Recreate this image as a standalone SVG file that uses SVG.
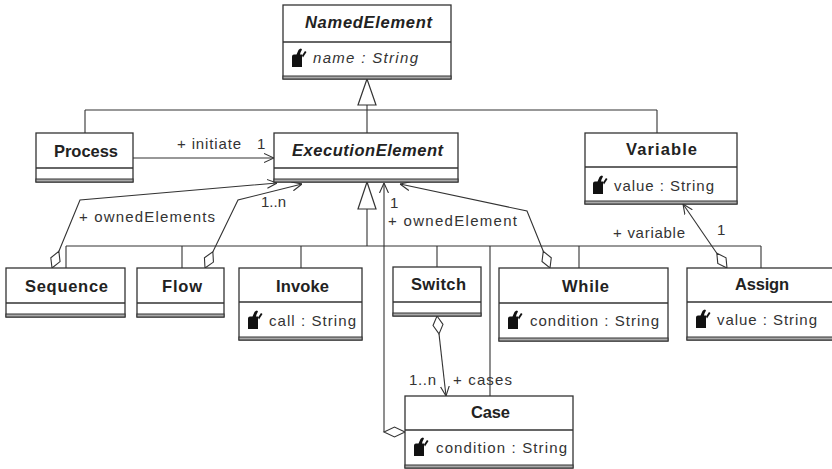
<svg xmlns="http://www.w3.org/2000/svg" width="832" height="469" viewBox="0 0 832 469">
<style>
.box{fill:#fff;stroke:#333;stroke-width:1.3}
.sep{stroke:#333;stroke-width:1.3}
.band{fill:#aaa;stroke:#333;stroke-width:1}
.t{font-family:"Liberation Sans",Arial,sans-serif;font-size:16.5px;font-weight:bold;fill:#222}
.ti{font-family:"Liberation Sans",Arial,sans-serif;font-size:16.5px;font-weight:bold;font-style:italic;fill:#222}
.a{font-family:"Liberation Sans",Arial,sans-serif;font-size:15px;fill:#333}
.ai{font-family:"Liberation Sans",Arial,sans-serif;font-size:15px;font-style:italic;fill:#333}
.l{font-family:"Liberation Sans",Arial,sans-serif;font-size:15px;fill:#333}
.c{fill:none;stroke:#333;stroke-width:1.1}
.dia{fill:#fff;stroke:#333;stroke-width:1.1}
.tri{fill:#fff;stroke:#333;stroke-width:1.2}
</style>
<defs>
<marker id="arr" viewBox="0 0 10 10" refX="10" refY="5" markerWidth="10" markerHeight="10" markerUnits="userSpaceOnUse" orient="auto">
<path d="M0,0.5 L10,5 L0,9.5" fill="none" stroke="#333" stroke-width="1.1"/>
</marker>
<g id="icon">
<path d="M0,19 L0,8.5 Q0,6.5 2,6.5 L4.5,6.5 L6.5,2 Q7.5,0.5 9,0.5 L10,1.5 L8.5,4.5 L8,6.5 L10,6.5 L10,19 Z" fill="#111"/>
<path d="M10,7.5 L13,3 L14.5,4 L11,9.5 Z" fill="#111"/>
</g>
</defs>

<g id="connectors">
<polygon class="tri" points="367,79 358,105 376,105"/>
<path class="c" d="M367,105 V110 M85,110 H657 M85,110 V133 M367,110 V133 M657,110 V133"/>
<polygon class="tri" points="367,182 358,209 376,209"/>
<path class="c" d="M367,209 V246 M66,246 H761 M66,246 V268 M182,246 V268 M301,246 V268 M437,246 V267 M490,246 V396 M579,246 V268 M761,246 V268"/>
<path class="c" d="M133,158 H274" marker-end="url(#arr)"/>
<polygon class="dia" points="52,268 60.05,261.58 58.86,251.35 50.81,257.78"/>
<polyline class="c" points="58.9,251.3 80,200 277,183" marker-end="url(#arr)"/>
<polygon class="dia" points="205,268 213.43,262.08 212.86,251.8 204.43,257.71"/>
<polyline class="c" points="212.9,251.8 238,200 302,184" marker-end="url(#arr)"/>
<polygon class="dia" points="550,268 551.27,257.79 543.27,251.31 542,261.53"/>
<polyline class="c" points="543.3,251.3 527,211 400,184" marker-end="url(#arr)"/>
<polygon class="dia" points="437,316 442.98,324.39 439.01,333.89 433.03,325.51"/>
<polyline class="c" points="439,333.9 446,396" marker-end="url(#arr)"/>
<polygon class="dia" points="727,268 726.02,257.74 716.8,253.17 717.78,263.42"/>
<polyline class="c" points="716.8,253.2 683,204" marker-end="url(#arr)"/>
<polygon class="dia" points="405,432 394.5,427 384,432 394.5,437"/>
<polyline class="c" points="384,432 384,183" marker-end="url(#arr)"/>
<text class="l" x="177" y="149" textLength="64" lengthAdjust="spacing">+ initiate</text>
<text class="l" x="257" y="149">1</text>
<text class="l" x="79" y="222" textLength="136" lengthAdjust="spacing">+ ownedElements</text>
<text class="l" x="261" y="207" textLength="25" lengthAdjust="spacing">1..n</text>
<text class="l" x="390" y="208">1</text>
<text class="l" x="388" y="226" textLength="129" lengthAdjust="spacing">+ ownedElement</text>
<text class="l" x="613" y="238" textLength="72" lengthAdjust="spacing">+ variable</text>
<text class="l" x="717" y="235">1</text>
<text class="l" x="409" y="385" textLength="27" lengthAdjust="spacing">1..n</text>
<text class="l" x="453" y="385" textLength="59" lengthAdjust="spacing">+ cases</text>
</g>

<g id="NamedElement">
<rect class="box" x="283" y="5" width="168" height="74"/>
<line class="sep" x1="283" y1="42" x2="451" y2="42"/>
<rect class="band" x="283" y="76" width="168" height="3"/>
<text class="ti" x="305" y="28" textLength="127" lengthAdjust="spacing">NamedElement</text>
<use href="#icon" x="292" y="48"/>
<text class="ai" x="313" y="63" textLength="105" lengthAdjust="spacing">name : String</text>
</g>

<g id="Process">
<rect class="box" x="36" y="133" width="97" height="49"/>
<line class="sep" x1="36" y1="168" x2="133" y2="168"/>
<rect class="band" x="36" y="179" width="97" height="3"/>
<text class="t" x="54" y="157" textLength="64" lengthAdjust="spacing">Process</text>
</g>

<g id="ExecutionElement">
<rect class="box" x="274" y="133" width="184" height="49"/>
<line class="sep" x1="274" y1="168" x2="458" y2="168"/>
<rect class="band" x="274" y="179" width="184" height="3"/>
<text class="ti" x="292" y="156" textLength="151" lengthAdjust="spacing">ExecutionElement</text>
</g>

<g id="Variable">
<rect class="box" x="585" y="133" width="152" height="71"/>
<line class="sep" x1="585" y1="167" x2="737" y2="167"/>
<rect class="band" x="585" y="201" width="152" height="3"/>
<text class="t" x="626" y="155" textLength="71" lengthAdjust="spacing">Variable</text>
<use href="#icon" x="593" y="175"/>
<text class="a" x="614" y="191" textLength="100" lengthAdjust="spacing">value : String</text>
</g>

<g id="Sequence">
<rect class="box" x="6" y="268" width="119" height="49"/>
<line class="sep" x1="6" y1="303" x2="125" y2="303"/>
<rect class="band" x="6" y="314" width="119" height="3"/>
<text class="t" x="25" y="292" textLength="83" lengthAdjust="spacing">Sequence</text>
</g>

<g id="Flow">
<rect class="box" x="137" y="268" width="87" height="49"/>
<line class="sep" x1="137" y1="303" x2="224" y2="303"/>
<rect class="band" x="137" y="314" width="87" height="3"/>
<text class="t" x="162" y="292" textLength="40" lengthAdjust="spacing">Flow</text>
</g>

<g id="Invoke">
<rect class="box" x="239" y="268" width="123" height="72"/>
<line class="sep" x1="239" y1="302" x2="362" y2="302"/>
<rect class="band" x="239" y="337" width="123" height="3"/>
<text class="t" x="276" y="292" textLength="53" lengthAdjust="spacing">Invoke</text>
<use href="#icon" x="248" y="310"/>
<text class="a" x="269" y="326" textLength="87" lengthAdjust="spacing">call : String</text>
</g>

<g id="Switch">
<rect class="box" x="393" y="267" width="88" height="49"/>
<line class="sep" x1="393" y1="302" x2="481" y2="302"/>
<rect class="band" x="393" y="313" width="88" height="3"/>
<text class="t" x="411" y="290" textLength="55" lengthAdjust="spacing">Switch</text>
</g>

<g id="While">
<rect class="box" x="499" y="268" width="169" height="73"/>
<line class="sep" x1="499" y1="303" x2="668" y2="303"/>
<rect class="band" x="499" y="338" width="169" height="3"/>
<text class="t" x="562" y="292" textLength="47" lengthAdjust="spacing">While</text>
<use href="#icon" x="508" y="310"/>
<text class="a" x="530" y="326" textLength="129" lengthAdjust="spacing">condition : String</text>
</g>

<g id="Assign">
<rect class="box" x="687" y="268" width="152" height="72"/>
<line class="sep" x1="687" y1="302" x2="839" y2="302"/>
<rect class="band" x="687" y="337" width="152" height="3"/>
<text class="t" x="735" y="290" textLength="54" lengthAdjust="spacing">Assign</text>
<use href="#icon" x="696" y="309"/>
<text class="a" x="717" y="325" textLength="100" lengthAdjust="spacing">value : String</text>
</g>

<g id="Case">
<rect class="box" x="405" y="396" width="168" height="72"/>
<line class="sep" x1="405" y1="430" x2="573" y2="430"/>
<rect class="band" x="405" y="465" width="168" height="3"/>
<text class="t" x="471" y="418" textLength="39" lengthAdjust="spacing">Case</text>
<use href="#icon" x="414" y="437"/>
<text class="a" x="436" y="453" textLength="131" lengthAdjust="spacing">condition : String</text>
</g>
</svg>
